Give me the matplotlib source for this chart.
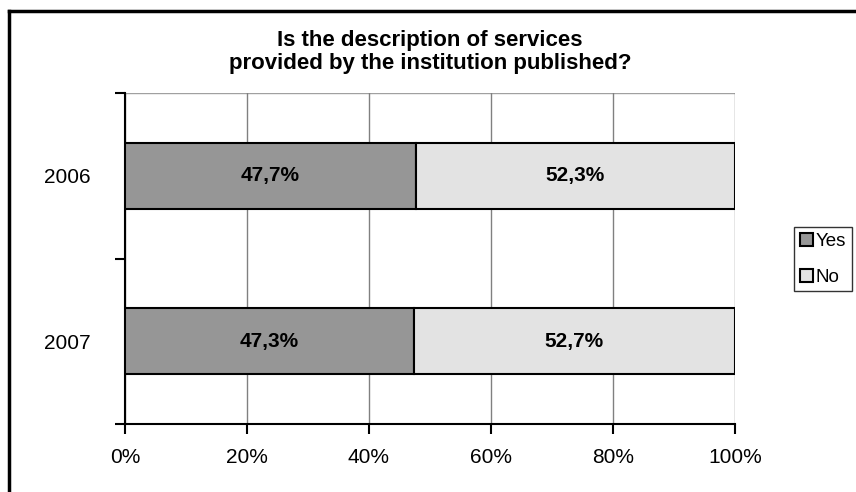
import matplotlib
matplotlib.use("Agg")
import matplotlib.pyplot as plt
from matplotlib.lines import Line2D
from matplotlib.ticker import PercentFormatter

plt.rcParams['font.family'] = ['Liberation Sans', 'DejaVu Sans']

years = ["2006", "2007"]
yes_vals = [47.7, 47.3]
no_vals = [52.3, 52.7]
series_names = ["Yes", "No"]
colors = ["#969696", "#e3e3e3"]
title = "Is the description of services\nprovided by the institution published?"

fig = plt.figure(figsize=(8.56, 4.92), dpi=100)
ax = fig.add_axes([125/856, 1-424/492, (735-125)/856, (424-93)/492])

ypos = [0.5, 1.5]
h = 0.4
b1 = ax.barh(ypos, yes_vals, height=h, color=colors[0], edgecolor="black", linewidth=1.5, label=series_names[0], zorder=3)
b2 = ax.barh(ypos, no_vals, left=yes_vals, height=h, color=colors[1], edgecolor="black", linewidth=1.5, label=series_names[1], zorder=3)

for y, yv, nv in zip(ypos, yes_vals, no_vals):
    ax.text(yv/2, y, f"{yv:.1f}%".replace(".", ","), ha="center", va="center", fontsize=15, fontweight="bold", zorder=4)
    ax.text(yv + nv/2, y, f"{nv:.1f}%".replace(".", ","), ha="center", va="center", fontsize=15, fontweight="bold", zorder=4)

ax.set_xlim(0, 100)
ax.set_ylim(2, 0)
ax.set_xticks([0, 20, 40, 60, 80, 100])
ax.xaxis.set_major_formatter(PercentFormatter(decimals=0))
ax.set_yticks([0, 1, 2])
ax.set_yticklabels([])
ax.set_yticks(ypos, minor=True)
ax.set_yticklabels(years, minor=True)
ax.tick_params(axis="y", which="minor", length=0, pad=25, labelsize=15)
ax.tick_params(axis="y", which="major", length=7, width=1.5, direction="out")
ax.tick_params(axis="x", length=7, width=1.5, direction="out", pad=10, labelsize=15)

ax.grid(axis="x", color="#808080", linewidth=1, zorder=0)
ax.spines["top"].set_visible(False)
ax.spines["right"].set_visible(False)
ax.spines["left"].set_linewidth(1.5)
ax.spines["bottom"].set_linewidth(1.5)
ax.axhline(0, color="#a0a0a0", linewidth=1, zorder=1)

fig.text(430/856, 1-52/492, title, ha="center", va="center", fontsize=16, fontweight="bold", linespacing=1.1)

leg = fig.legend(handles=[b1, b2], loc="upper left", bbox_to_anchor=(794/856, 1-227/492),
                 fontsize=13.5, frameon=True, fancybox=False, edgecolor="black",
                 handlelength=0.7, handleheight=0.7, handletextpad=0.15, borderpad=0.3,
                 labelspacing=1.0, borderaxespad=0)
leg.get_frame().set_linewidth(1)

fig.add_artist(Line2D([9/856, 1.0], [1-11/492, 1-11/492], color="black", linewidth=2.5, transform=fig.transFigure))
fig.add_artist(Line2D([9/856, 9/856], [1-11/492, 0], color="black", linewidth=2.5, transform=fig.transFigure))

fig.savefig("out.png", dpi=100)
